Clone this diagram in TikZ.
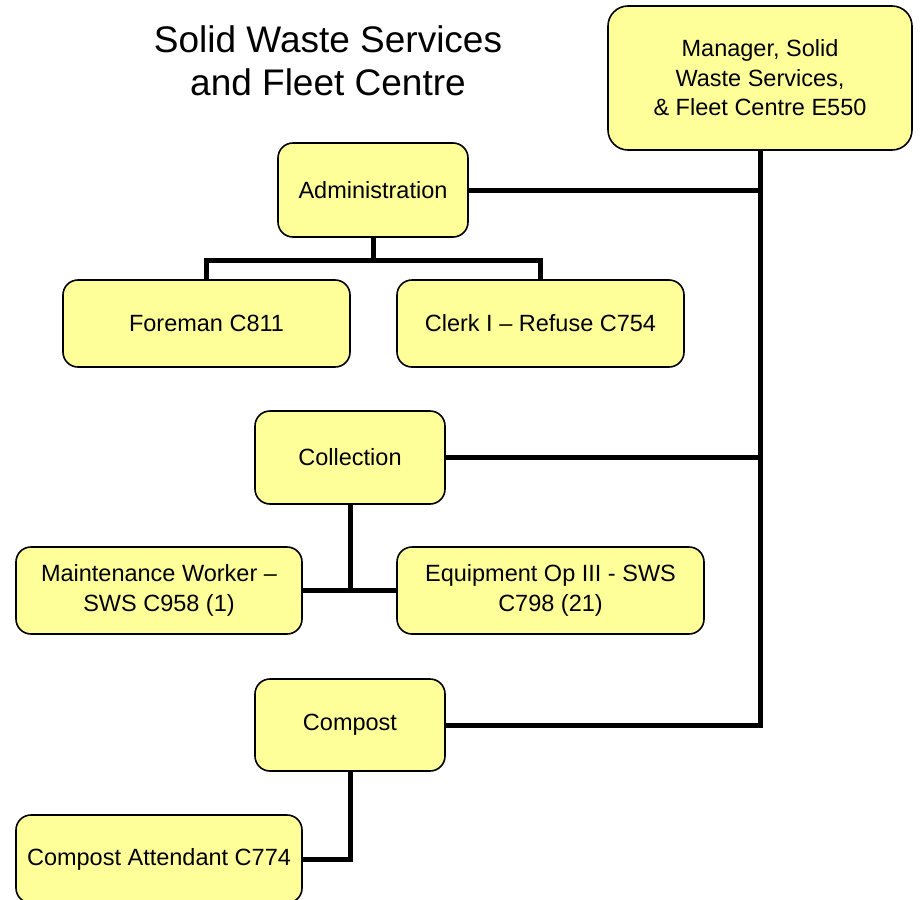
\documentclass[tikz,border=0pt]{standalone}
\usepackage{fontspec}
\setmainfont{Liberation Sans}
\definecolor{boxfill}{RGB}{255,255,153}
\begin{document}
\begin{tikzpicture}[x=1pt,y=-1pt,
  orgbox/.style={draw=black,line width=1.6pt,fill=boxfill,rounded corners=15pt,
    align=center,inner sep=0pt,font=\fontsize{23.5}{29.5}\selectfont},
  link/.style={line width=5pt,line join=miter,line cap=butt}]
\useasboundingbox (0,0) rectangle (923,899);
\clip (0,0) rectangle (923,899);
\node[align=center,font=\fontsize{37}{43}\selectfont] (title) at (328,61) {Solid Waste Services\\and Fleet Centre};
\node[orgbox,rounded corners=20pt,minimum width=304pt,minimum height=144pt] (mgr) at (760,78) {Manager, Solid\\Waste Services,\\\& Fleet Centre E550};
\node[orgbox,minimum width=190pt,minimum height=94pt] (admin) at (373,190) {Administration};
\node[orgbox,minimum width=287pt,minimum height=87pt] (foreman) at (206.5,323.5) {Foreman C811};
\node[orgbox,minimum width=287pt,minimum height=87pt] (clerk) at (540.5,323.5) {Clerk I – Refuse C754};
\node[orgbox,minimum width=190pt,minimum height=93pt] (coll) at (350,457.5) {Collection};
\node[orgbox,minimum width=286pt,minimum height=87pt] (maint) at (159,590.5) {Maintenance Worker –\\SWS C958 (1)};
\node[orgbox,minimum width=307pt,minimum height=87pt] (equip) at (550.5,590.5) {Equipment Op III - SWS\\C798 (21)};
\node[orgbox,minimum width=190pt,minimum height=92pt] (compost) at (350,725) {Compost};
\node[orgbox,minimum width=286pt,minimum height=88pt] (att) at (159,859) {Compost Attendant C774};
\coordinate (adminsplit) at (373,260);
\draw[link] (mgr.south) -- (mgr.south |- compost.east) -- (compost.east);
\draw[link] (admin.east) -- (admin.east -| mgr.south);
\draw[link] (coll.east) -- (coll.east -| mgr.south);
\draw[link] (admin.south) -- (adminsplit);
\draw[link] (foreman.north) |- (adminsplit) -| (clerk.north);
\draw[link] (coll.south) -- (coll.south |- maint.east);
\draw[link] (maint.east) -- (equip.west);
\draw[link] (compost.south) |- (att.east);
\end{tikzpicture}
\end{document}
